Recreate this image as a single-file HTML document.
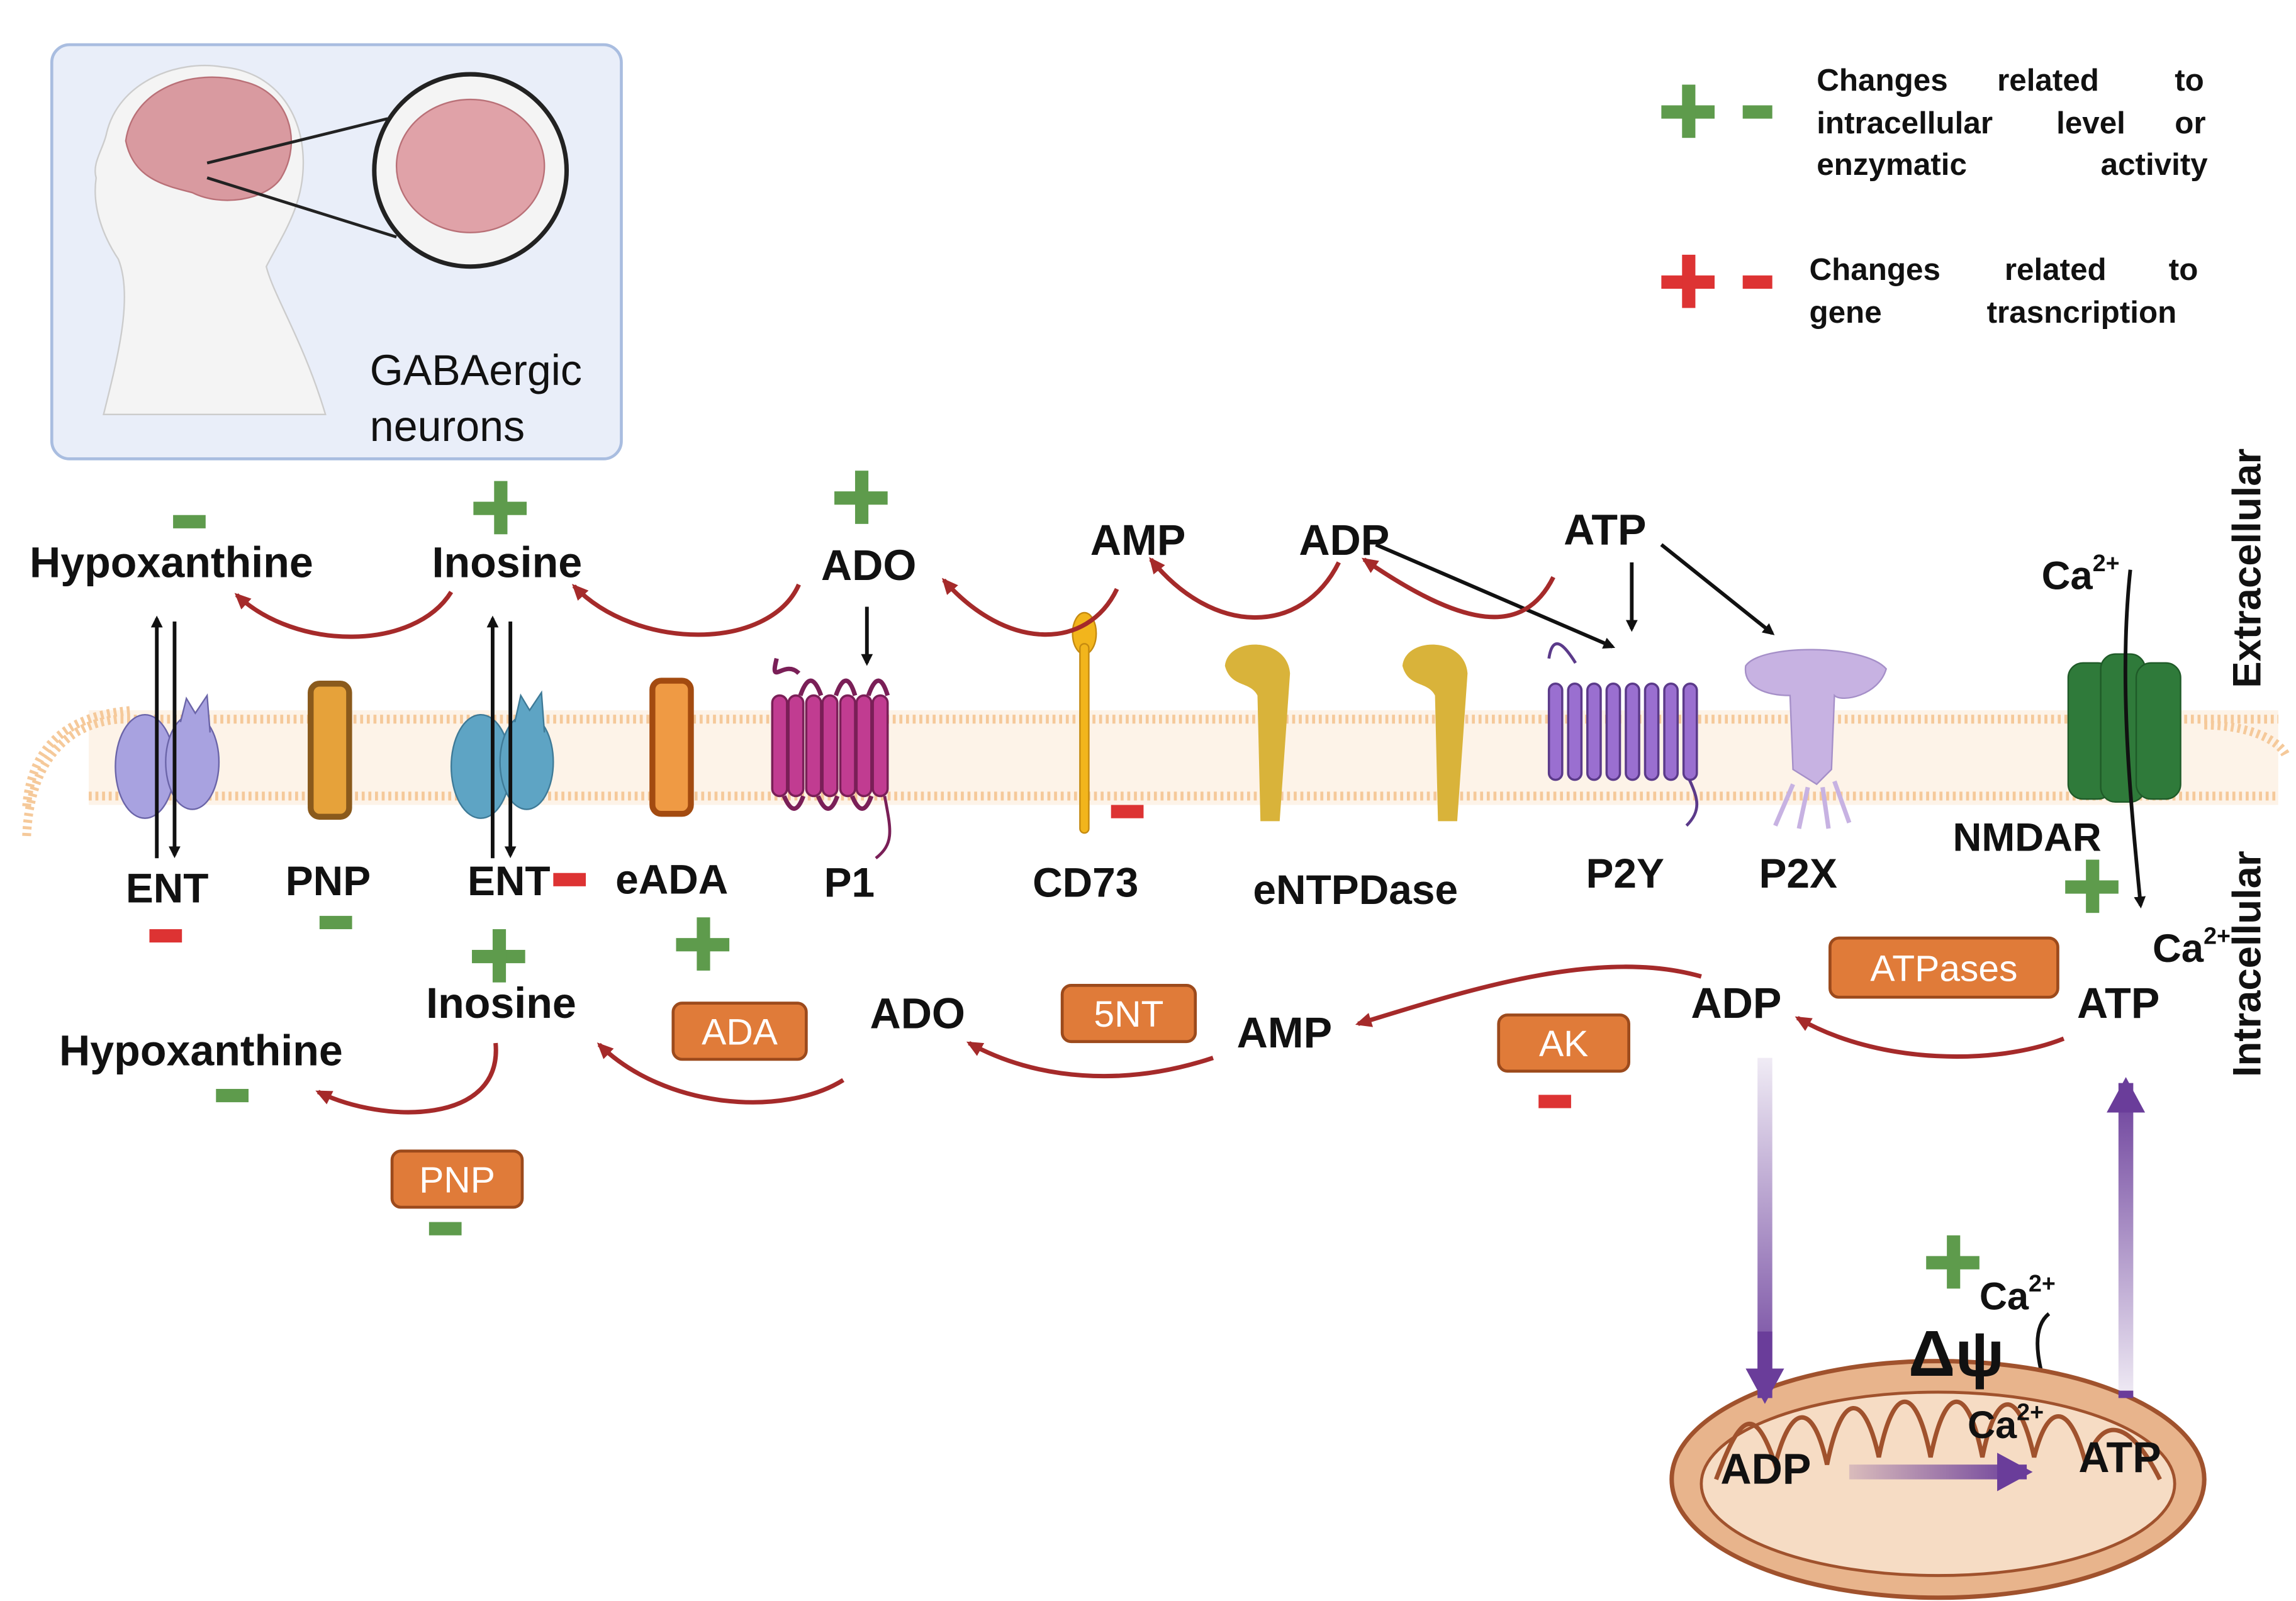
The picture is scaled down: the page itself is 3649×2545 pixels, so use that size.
<!DOCTYPE html>
<html><head><meta charset="utf-8"><style>
html,body{margin:0;padding:0;background:#fff}
svg{display:block}
text{font-family:"Liberation Sans",sans-serif;font-weight:bold;fill:#111}
.o{fill:#fff;font-size:25px;font-weight:normal}
</style></head><body>
<svg width="3649" height="2545" viewBox="0 0 1552 1082" xmlns="http://www.w3.org/2000/svg">
<defs>
<marker id="ab" markerWidth="8" markerHeight="8" refX="6" refY="4" orient="auto" markerUnits="userSpaceOnUse"><path d="M0,0 L8,4 L0,8z" fill="#111"/></marker>
<marker id="ar" markerWidth="12" markerHeight="12" refX="9" refY="6" orient="auto" markerUnits="userSpaceOnUse"><path d="M0,1 L11,6 L0,11z" fill="#a52a2a"/></marker>
<marker id="ap" markerWidth="30" markerHeight="30" refX="20" refY="15" orient="auto" markerUnits="userSpaceOnUse"><path d="M0,2 L24,15 L0,28z" fill="#6a3d9a"/></marker>
<linearGradient id="pd" gradientUnits="userSpaceOnUse" x1="0" y1="715" x2="0" y2="945"><stop offset="0" stop-color="#6a3d9a" stop-opacity="0.1"/><stop offset="1" stop-color="#6a3d9a"/></linearGradient>
<linearGradient id="pu" gradientUnits="userSpaceOnUse" x1="0" y1="945" x2="0" y2="732"><stop offset="0" stop-color="#6a3d9a" stop-opacity="0.1"/><stop offset="1" stop-color="#6a3d9a"/></linearGradient>
<linearGradient id="ph" gradientUnits="userSpaceOnUse" x1="1250" y1="0" x2="1370" y2="0"><stop offset="0" stop-color="#6a3d9a" stop-opacity="0.2"/><stop offset="1" stop-color="#6a3d9a"/></linearGradient>
</defs>
<!-- inset -->
<rect x="35" y="30" width="385" height="280" rx="12" fill="#e9eef9" stroke="#a9bde0" stroke-width="2"/>
<path d="M70,280 C80,240 90,200 80,175 C70,160 62,140 65,120 C62,110 70,100 72,90 C80,55 120,40 150,45 C185,48 205,75 205,110 C205,140 190,160 180,180 C185,200 205,230 220,280 Z" fill="#f4f4f4" stroke="#ccc"/>
<path d="M85,95 C90,60 130,45 165,55 C195,62 205,95 190,120 C180,135 150,140 130,130 C110,125 90,120 85,95Z" fill="#d99aa0" stroke="#b97077"/>
<line x1="140" y1="110" x2="262" y2="80" stroke="#222" stroke-width="2"/>
<line x1="140" y1="120" x2="268" y2="160" stroke="#222" stroke-width="2"/>
<circle cx="318" cy="115" r="65" fill="#f4f4f4" stroke="#222" stroke-width="3"/>
<ellipse cx="318" cy="112" rx="50" ry="45" fill="#e0a2a8" stroke="#b97077"/>
<text x="250" y="260" style="font-size:29px;font-weight:normal">GABAergic</text>
<text x="250" y="298" style="font-size:29px;font-weight:normal">neurons</text>
<!-- legend -->
<g fill="#5e9b4c"><rect x="1123" y="71" width="36" height="9"/><rect x="1137" y="57" width="9" height="36"/><rect x="1178" y="71" width="20" height="9"/></g>
<g fill="#d33"><rect x="1123" y="186" width="36" height="9"/><rect x="1137" y="172" width="9" height="36"/><rect x="1178" y="186" width="20" height="9"/></g>
<g style="font-size:21px">
<text x="1228" y="61">Changes</text><text x="1350" y="61">related</text><text x="1470" y="61">to</text>
<text x="1228" y="90">intracellular</text><text x="1390" y="90">level</text><text x="1470" y="90">or</text>
<text x="1228" y="118">enzymatic</text><text x="1420" y="118">activity</text>
<text x="1223" y="189">Changes</text><text x="1355" y="189">related</text><text x="1466" y="189">to</text>
<text x="1223" y="218">gene</text><text x="1343" y="218">trasncription</text>
</g>
<!-- membrane -->
<rect x="60" y="480" width="1480" height="64" fill="#fdf3e8"/>
<path d="M18,565 C20,520 40,490 80,486 L1540,486" fill="none" stroke="#f5c99a" stroke-width="6" stroke-dasharray="2 2.5"/>
<path d="M18,545 C22,500 50,483 90,480" fill="none" stroke="#f5c99a" stroke-width="6" stroke-dasharray="2 2.5"/>
<path d="M60,538 L1540,538" fill="none" stroke="#f5c99a" stroke-width="6" stroke-dasharray="2 2.5"/>
<path d="M1490,490 C1520,490 1540,500 1545,510" fill="none" stroke="#f5c99a" stroke-width="6" stroke-dasharray="2 2.5"/>
<!-- proteins -->
<g stroke="#6a64a8"><ellipse cx="98" cy="518" rx="20" ry="35" fill="#a8a2e0"/><ellipse cx="130" cy="515" rx="18" ry="32" fill="#a8a2e0"/><path d="M122,488 L126,472 L132,482 L140,470 L142,495" fill="#a8a2e0"/></g>
<rect x="210" y="462" width="26" height="90" rx="6" fill="#e6a23a" stroke="#8a5a1c" stroke-width="4"/>
<g stroke="#3e7a97"><ellipse cx="325" cy="518" rx="20" ry="35" fill="#5ea4c4"/><ellipse cx="356" cy="515" rx="18" ry="32" fill="#5ea4c4"/><path d="M348,488 L352,470 L358,480 L366,468 L368,495" fill="#5ea4c4"/></g>
<rect x="441" y="460" width="26" height="90" rx="6" fill="#ef9a44" stroke="#a34b10" stroke-width="4"/>
<g fill="#c13c91" stroke="#7a1f57" stroke-width="1.5">
<path d="M540,455 C530,445 520,465 525,445" fill="none" stroke-width="3"/>
<rect x="522" y="470" width="10" height="68" rx="5"/><rect x="533" y="470" width="10" height="68" rx="5"/><rect x="545" y="470" width="10" height="68" rx="5"/><rect x="556" y="470" width="10" height="68" rx="5"/><rect x="568" y="470" width="10" height="68" rx="5"/><rect x="579" y="470" width="10" height="68" rx="5"/><rect x="590" y="470" width="10" height="68" rx="5"/>
<path d="M530,538 Q537,555 543,538 M553,538 Q560,555 566,538 M576,538 Q583,555 589,538 M541,470 Q548,450 555,470 M565,470 Q572,450 578,470 M587,470 Q594,450 600,470" fill="none" stroke-width="3"/>
<path d="M598,538 C602,560 605,570 592,580" fill="none" stroke-width="2"/>
</g>
<g fill="#f2b51c" stroke="#c58a10"><ellipse cx="733" cy="428" rx="8" ry="14"/><rect x="730" y="435" width="6" height="128" rx="3"/></g>
<g fill="#d9b33a"><path d="M828,450 C830,430 870,430 872,455 L865,555 L852,555 L850,470 C845,460 832,465 828,450Z"/><path d="M948,450 C950,430 990,430 992,455 L985,555 L972,555 L970,470 C965,460 952,465 948,450Z"/></g>
<g fill="#9a6fd0" stroke="#5b3a8a" stroke-width="1.5">
<path d="M1047,445 C1050,425 1060,440 1065,448" fill="none" stroke-width="2"/>
<rect x="1047" y="462" width="9" height="65" rx="4.5"/><rect x="1060" y="462" width="9" height="65" rx="4.5"/><rect x="1073" y="462" width="9" height="65" rx="4.5"/><rect x="1086" y="462" width="9" height="65" rx="4.5"/><rect x="1099" y="462" width="9" height="65" rx="4.5"/><rect x="1112" y="462" width="9" height="65" rx="4.5"/><rect x="1125" y="462" width="9" height="65" rx="4.5"/><rect x="1138" y="462" width="9" height="65" rx="4.5"/>
<path d="M1142,527 C1148,540 1150,548 1140,558" fill="none" stroke-width="2"/>
</g>
<g fill="#c7b2e2" stroke="#a58fc8"><path d="M1180,450 C1190,435 1260,435 1275,452 C1270,470 1245,475 1240,470 L1238,520 L1228,530 L1212,520 L1210,470 C1195,470 1178,465 1180,450Z"/><path d="M1212,530 L1200,558 M1222,532 L1216,560 M1232,532 L1236,560 M1240,528 L1250,556" stroke="#c7b2e2" stroke-width="3" fill="none"/></g>
<g fill="#2f7a3a" stroke="#1f5a28"><rect x="1398" y="448" width="30" height="92" rx="10"/><rect x="1420" y="442" width="30" height="100" rx="10"/><rect x="1444" y="448" width="30" height="92" rx="10"/></g>
<!-- black arrows -->
<g stroke="#111" stroke-width="2.5" fill="none" marker-end="url(#ab)">
<line x1="106" y1="580" x2="106" y2="418"/><line x1="118" y1="420" x2="118" y2="578"/>
<line x1="333" y1="580" x2="333" y2="418"/><line x1="345" y1="420" x2="345" y2="578"/>
<line x1="586" y1="410" x2="586" y2="448"/>
<line x1="930" y1="368" x2="1090" y2="437"/>
<line x1="1103" y1="380" x2="1103" y2="425"/>
<line x1="1123" y1="368" x2="1198" y2="428"/>
<path d="M1440,385 C1432,460 1440,540 1447,612"/>
<path d="M1385,888 C1370,900 1380,930 1388,955"/>
</g>
<!-- red curved arrows -->
<g stroke="#a52a2a" stroke-width="3" fill="none" marker-end="url(#ar)">
<path d="M305,400 C280,440 200,440 160,402"/>
<path d="M540,395 C520,440 430,440 388,396"/>
<path d="M755,398 C735,440 680,440 638,392"/>
<path d="M905,380 C880,430 820,430 778,378"/>
<path d="M1050,390 C1030,430 990,425 922,378"/>
<path d="M335,705 C340,760 260,760 215,738"/>
<path d="M570,730 C530,755 450,750 405,706"/>
<path d="M820,715 C760,735 700,730 655,705"/>
<path d="M1150,660 C1080,640 990,670 918,692"/>
<path d="M1395,702 C1350,720 1270,720 1215,688"/>
</g>
<!-- purple arrows -->
<line x1="1193" y1="715" x2="1193" y2="945" stroke="url(#pd)" stroke-width="10" marker-end="url(#ap)"/>
<line x1="1437" y1="945" x2="1437" y2="732" stroke="url(#pu)" stroke-width="10" marker-end="url(#ap)"/>
<!-- mitochondrion -->
<ellipse cx="1310" cy="1000" rx="180" ry="80" fill="#e8b48c" stroke="#a0522d" stroke-width="3"/>
<ellipse cx="1310" cy="1003" rx="160" ry="62" fill="#f6dcc4" stroke="#a0522d" stroke-width="2"/>
<path d="M1160,1000 C1175,960 1185,945 1200,990 C1210,950 1225,945 1235,990 C1245,940 1260,940 1270,985 C1280,935 1295,935 1305,985 C1315,935 1330,935 1340,985 C1350,935 1365,940 1375,985 C1385,945 1400,950 1410,990 C1420,955 1440,960 1460,1000" fill="none" stroke="#a0522d" stroke-width="3"/>
<line x1="1250" y1="995" x2="1370" y2="995" stroke="url(#ph)" stroke-width="10" marker-end="url(#ap)"/>
<line x1="1193" y1="900" x2="1193" y2="945" stroke="#6a3d9a" stroke-width="10" marker-end="url(#ap)"/>
<line x1="1437" y1="940" x2="1437" y2="945" stroke="#6a3d9a" stroke-width="10"/>
<!-- labels -->
<g style="font-size:29px">
<text x="20" y="390">Hypoxanthine</text><text x="292" y="390">Inosine</text><text x="555" y="392">ADO</text>
<text x="737" y="375">AMP</text><text x="878" y="375">ADP</text><text x="1057" y="368">ATP</text>
<text x="1380" y="398" style="font-size:27px">Ca<tspan dy="-12" style="font-size:16px">2+</tspan></text>
<text x="85" y="610" style="font-size:28px">ENT</text><text x="193" y="605" style="font-size:28px">PNP</text><text x="316" y="605" style="font-size:28px">ENT</text><text x="416" y="604" style="font-size:28px">eADA</text><text x="557" y="606" style="font-size:28px">P1</text><text x="698" y="606" style="font-size:28px">CD73</text><text x="847" y="611" style="font-size:28px">eNTPDase</text><text x="1072" y="600" style="font-size:28px">P2Y</text><text x="1189" y="600" style="font-size:28px">P2X</text>
<text x="1320" y="575" style="font-size:27px">NMDAR</text>
<text x="288" y="688">Inosine</text><text x="40" y="720">Hypoxanthine</text><text x="588" y="695">ADO</text><text x="836" y="708">AMP</text><text x="1143" y="688">ADP</text><text x="1404" y="688">ATP</text>
<text x="1455" y="650" style="font-size:27px">Ca<tspan dy="-12" style="font-size:16px">2+</tspan></text>
<text x="1163" y="1003">ADP</text><text x="1405" y="995">ATP</text>
<text x="1290" y="930" style="font-size:44px">Δψ</text>
<text x="1338" y="885" style="font-size:26px">Ca<tspan dy="-12" style="font-size:16px">2+</tspan></text>
<text x="1330" y="972" style="font-size:26px">Ca<tspan dy="-12" style="font-size:16px">2+</tspan></text>
</g>
<text transform="translate(1528,465) rotate(-90)" style="font-size:27px">Extracellular</text>
<text transform="translate(1528,728) rotate(-90)" style="font-size:27px">Intracellular</text>
<!-- enzyme boxes -->
<g fill="#e07b39" stroke="#9c4a1c" stroke-width="2">
<rect x="455" y="678" width="90" height="38" rx="6"/><rect x="718" y="666" width="90" height="38" rx="6"/><rect x="1013" y="686" width="88" height="38" rx="6"/><rect x="1237" y="634" width="154" height="40" rx="6"/><rect x="265" y="778" width="88" height="38" rx="6"/>
</g>
<text class="o" x="500" y="706" text-anchor="middle">ADA</text><text class="o" x="763" y="694" text-anchor="middle">5NT</text><text class="o" x="1057" y="714" text-anchor="middle">AK</text><text class="o" x="1314" y="663" text-anchor="middle">ATPases</text><text class="o" x="309" y="806" text-anchor="middle">PNP</text>
<!-- signs -->
<g fill="#5e9b4c">
<rect x="117" y="348" width="22" height="9"/>
<rect x="320" y="339" width="36" height="9"/><rect x="334" y="325" width="9" height="36"/>
<rect x="564" y="332" width="36" height="9"/><rect x="578" y="318" width="9" height="36"/>
<rect x="216" y="619" width="22" height="9"/>
<rect x="319" y="642" width="36" height="9"/><rect x="333" y="628" width="9" height="36"/>
<rect x="457" y="634" width="36" height="9"/><rect x="471" y="620" width="9" height="36"/>
<rect x="1396" y="595" width="36" height="9"/><rect x="1410" y="581" width="9" height="36"/>
<rect x="146" y="736" width="22" height="9"/>
<rect x="290" y="826" width="22" height="9"/>
<rect x="1302" y="849" width="36" height="9"/><rect x="1316" y="835" width="9" height="36"/>
</g>
<g fill="#d33">
<rect x="101" y="628" width="22" height="9"/><rect x="374" y="590" width="22" height="9"/><rect x="751" y="544" width="22" height="9"/><rect x="1040" y="740" width="22" height="9"/>
</g>
</svg>
</body></html>
